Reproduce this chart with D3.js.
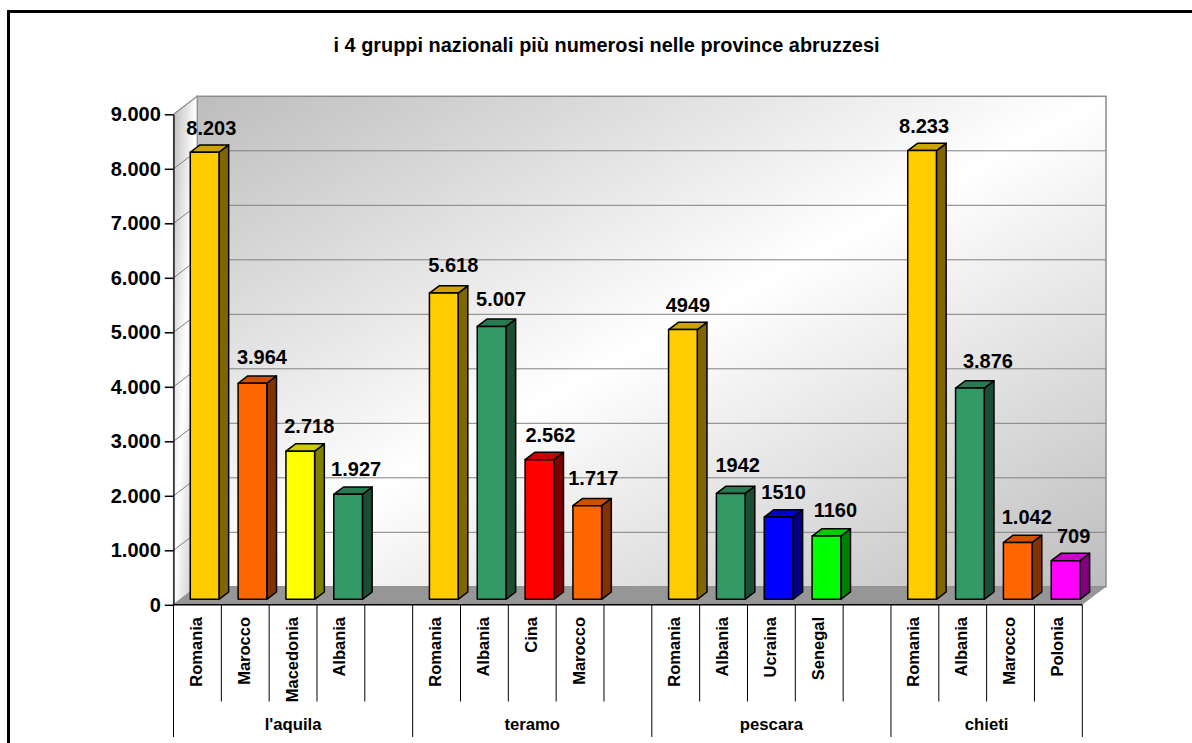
<!DOCTYPE html>
<html>
<head>
<meta charset="utf-8">
<title>gruppi nazionali</title>
<script src="https://cdn.jsdelivr.net/npm/d3@7"></script>
<style>
  html, body { margin: 0; padding: 0; background: #fff; }
  svg { display: block; }
  text { font-family: "Liberation Sans", Arial, sans-serif; font-weight: bold; fill: #000; }
</style>
</head>
<body>
<div id="chart"></div>
<script>
const provinces = ["l'aquila", 'teramo', 'pescara', 'chieti'];
const countries = [
  ['Romania', 'Marocco', 'Macedonia', 'Albania'],
  ['Romania', 'Albania', 'Cina', 'Marocco'],
  ['Romania', 'Albania', 'Ucraina', 'Senegal'],
  ['Romania', 'Albania', 'Marocco', 'Polonia']
];
const values = [
  [8203, 3964, 2718, 1927],
  [5618, 5007, 2562, 1717],
  [4949, 1942, 1510, 1160],
  [8233, 3876, 1042, 709]
];
const valueLabels = [
  ['8.203', '3.964', '2.718', '1.927'],
  ['5.618', '5.007', '2.562', '1.717'],
  ['4949', '1942', '1510', '1160'],
  ['8.233', '3.876', '1.042', '709']
];
const tickValues = [0, 1000, 2000, 3000, 4000, 5000, 6000, 7000, 8000, 9000];
const tickLabels = ['0', '1.000', '2.000', '3.000', '4.000', '5.000', '6.000', '7.000', '8.000', '9.000'];

const countryColors = {
  Romania: '#ffcc00', Marocco: '#ff6600', Macedonia: '#ffff00', Albania: '#339966',
  Cina: '#ff0000', Ucraina: '#0000ff', Senegal: '#00ff00', Polonia: '#ff00ff'
};

// hand placed data labels, [dx from bar centre, dy from bar top]
const labelNudge = [
  [[6.7, -24], [9.5, -26], [9, -25], [8, -25]],
  [[9.5, -28], [9.5, -27], [11, -25], [6, -28]],
  [[5, -25], [7, -28], [5, -25], [9, -26]],
  [[2, -25], [18, -27], [9, -26], [8, -25]]
];

const width = 1192;
const height = 743;
const left = 173.5;
const right = 1082.3;
const slotsPerGroup = 5;
const slotCount = provinces.length * slotsPerGroup - 1;
const wallDx = 23.7;
const wallDy = 18;
const barDx = 9.7;
const barDy = 7.3;
const catBottom = 701.5;
const groupBottom = 737;

const svg = d3.select('#chart').append('svg')
  .attr('width', width)
  .attr('height', height);

const x = d3.scaleBand()
  .domain(d3.range(slotCount))
  .range([left, right]);

const y = d3.scaleLinear()
  .domain([0, 9000])
  .range([604.8, 114.3]);

const shade = (c, k) => {
  const r = d3.rgb(c);
  return d3.rgb(r.r * k, r.g * k, r.b * k).formatHex();
};

// wall gradients run corner to corner, grey - white - grey
const defs = svg.append('defs');
['wallFill', 'sideFill'].forEach(id => {
  const g = defs.append('linearGradient').attr('id', id)
    .attr('x1', 0).attr('y1', 0).attr('x2', 1).attr('y2', 1);
  g.append('stop').attr('offset', '0%').attr('stop-color', '#bdbdbd');
  g.append('stop').attr('offset', '50%').attr('stop-color', '#ffffff');
  g.append('stop').attr('offset', '100%').attr('stop-color', '#bdbdbd');
});

// frame
svg.append('path')
  .attr('d', `M8.5,${height}V11.5H${width}`)
  .attr('fill', 'none')
  .attr('stroke', '#000')
  .attr('stroke-width', 3);

svg.append('text')
  .attr('x', 606.5)
  .attr('y', 52)
  .attr('text-anchor', 'middle')
  .style('font-size', '19.9px')
  .text('i 4 gruppi nazionali più numerosi nelle province abruzzesi');

// back wall, side wall, floor
const top9 = y(9000);
const y0 = y(0);
const wallLine = '#8c8c8c';

svg.append('rect')
  .attr('x', left + wallDx)
  .attr('y', top9 - wallDy)
  .attr('width', right - left)
  .attr('height', y0 - top9)
  .attr('fill', 'url(#wallFill)')
  .attr('stroke', wallLine)
  .attr('stroke-width', 1.5);

svg.append('path')
  .attr('d', `M${left},${top9}L${left + wallDx},${top9 - wallDy}V${y0 - wallDy}L${left},${y0}Z`)
  .attr('fill', 'url(#sideFill)')
  .attr('stroke', wallLine)
  .attr('stroke-width', 1.2);

svg.append('g').selectAll('path')
  .data(tickValues.slice(1, -1))
  .join('path')
  .attr('d', d => `M${left},${y(d)}L${left + wallDx},${y(d) - wallDy}H${right + wallDx}`)
  .attr('fill', 'none')
  .attr('stroke', '#808080')
  .attr('stroke-width', 1);

svg.append('path')
  .attr('d', `M${left},${y0}L${left + wallDx},${y0 - wallDy}H${right + wallDx}L${right},${y0}Z`)
  .attr('fill', '#969696');

// flatten the province arrays into one row of slots, with an empty slot between groups
const rows = [];
provinces.forEach((p, g) => {
  countries[g].forEach((c, i) => {
    rows.push({
      slot: g * slotsPerGroup + i,
      country: c,
      value: values[g][i],
      label: valueLabels[g][i],
      nudge: labelNudge[g][i]
    });
  });
});

const barW = x.bandwidth() * 0.6;
const barX = d => x(d.slot) + (x.bandwidth() - barW) / 2 + 7.2;
const barBase = y0 - 5.5;
const barTop = d => y(d.value) - 5.5;

const bars = svg.append('g')
  .attr('stroke', '#000')
  .attr('stroke-width', 1.5)
  .attr('stroke-linejoin', 'round')
  .selectAll('g')
  .data(rows)
  .join('g');

bars.append('path')
  .attr('d', d => `M${barX(d) + barW},${barTop(d)}l${barDx},${-barDy}V${barBase - barDy}L${barX(d) + barW},${barBase}Z`)
  .attr('fill', d => shade(countryColors[d.country], 0.5));

bars.append('path')
  .attr('d', d => `M${barX(d)},${barTop(d)}l${barDx},${-barDy}h${barW}l${-barDx},${barDy}Z`)
  .attr('fill', d => shade(countryColors[d.country], 0.8));

bars.append('rect')
  .attr('x', barX)
  .attr('y', barTop)
  .attr('width', barW)
  .attr('height', d => barBase - barTop(d))
  .attr('fill', d => countryColors[d.country]);

// value axis
const yAxis = svg.append('g')
  .attr('transform', `translate(${left},0)`)
  .call(d3.axisLeft(y)
    .tickValues(tickValues)
    .tickFormat((d, i) => tickLabels[i])
    .tickSize(8.7)
    .tickPadding(4)
    .tickSizeOuter(0));

yAxis.selectAll('line').attr('stroke', '#000').attr('stroke-width', 1.5);
yAxis.select('.domain').attr('stroke', '#000').attr('stroke-width', 1.2);
yAxis.selectAll('text')
  .style('font-size', '20px')
  .style('font-family', '"Liberation Sans", Arial, sans-serif')
  .style('font-weight', 'bold');

// front edge of the floor and the two rows of category dividers
svg.append('line')
  .attr('x1', left).attr('x2', right)
  .attr('y1', y0).attr('y2', y0)
  .attr('stroke', '#000')
  .attr('stroke-width', 1.5);

svg.append('g').selectAll('line')
  .data(d3.range(slotCount + 1))
  .join('line')
  .attr('x1', i => left + i * x.step())
  .attr('x2', i => left + i * x.step())
  .attr('y1', y0)
  .attr('y2', i => (i % slotsPerGroup === 0 || i === slotCount) ? groupBottom : catBottom)
  .attr('stroke', '#000')
  .attr('stroke-width', 1);

svg.append('g').selectAll('text')
  .data(rows)
  .join('text')
  .attr('transform', d => `translate(${x(d.slot) + x.bandwidth() / 2 + 4.5},617) rotate(-90)`)
  .attr('text-anchor', 'end')
  .style('font-size', '16.5px')
  .text(d => d.country);

svg.append('g').selectAll('text')
  .data(provinces)
  .join('text')
  .attr('x', (d, g) => {
    const a = x(g * slotsPerGroup);
    const b = g === provinces.length - 1 ? right : x((g + 1) * slotsPerGroup);
    return (a + b) / 2;
  })
  .attr('y', 730)
  .attr('text-anchor', 'middle')
  .style('font-size', '16.7px')
  .text(d => d);

// value labels above the bars
svg.append('g').selectAll('text')
  .data(rows)
  .join('text')
  .attr('x', d => barX(d) + barW / 2 + d.nudge[0])
  .attr('y', d => barTop(d) + d.nudge[1] + 7)
  .attr('text-anchor', 'middle')
  .style('font-size', '20px')
  .text(d => d.label);
</script>
</body>
</html>
